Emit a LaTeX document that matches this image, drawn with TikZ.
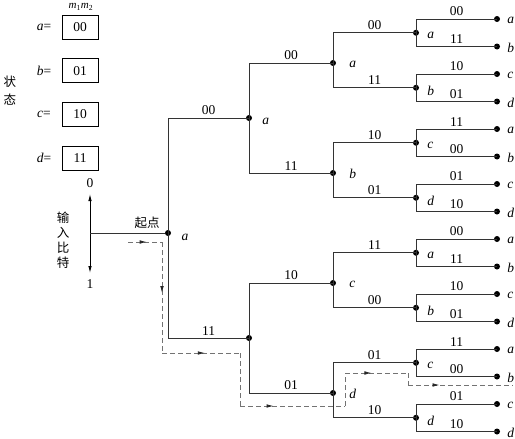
\documentclass[tikz,border=0pt]{standalone}
\usepackage{fontspec}
\setmainfont{Liberation Serif}
\newfontfamily\cjk{Noto Sans CJK SC}
\usetikzlibrary{arrows.meta,decorations.markings}
\newcommand\lblfont{\fontsize{13.5}{15}\selectfont}
\begin{document}
\begin{tikzpicture}[x=1pt,y=-1pt,
  every node/.style={font=\lblfont},
  tree/.style={draw=black!80, line width=0.8pt},
  dot/.style={circle, fill=black, inner sep=0pt, minimum size=6pt},
  outlbl/.style={above=1.5pt, inner sep=1pt},
  stlbl/.style={inner sep=0pt, label distance=#1},
  statebox/.style={draw, line width=0.8pt, minimum width=36pt, minimum height=24pt, inner sep=0pt},
  dashpath/.style={draw=black!55, line width=0.8pt, dash pattern=on 5pt off 3pt},
  midarr/.style={postaction={decorate}, decoration={markings,
     mark=at position #1 with {\arrow[black!85]{Latex[length=7pt,width=3.6pt]}}}}
]
\useasboundingbox (0,0) rectangle (515,439);

% ---- left legend ----
\node[font=\fontsize{11}{12}\selectfont] (m12) at (81,7) {\textit{m}\textsubscript{1}\textit{m}\textsubscript{2}};
\foreach \k/\s/\v in {0/a/00,1/b/01,2/c/10,3/d/11}{
  \node[statebox] (box\s) at (80,{27+43.7*\k}) {\v};
  \node (eq\s) at (44,{27+43.7*\k}) {\textit{\s}=};
}
\node[align=center, font=\cjk\fontsize{12.5}{18}\selectfont] (zt) at (10,91) {状\\态};
\node (zero) at (90,183) {0};
\node (one) at (90,284) {1};
\coordinate (in) at (90,233);
\coordinate (up) at (90,194);
\coordinate (dn) at (90,273);
\draw[line width=0.8pt, -{Latex[length=7pt,width=3.4pt]}] (in) -- (up);
\draw[line width=0.8pt, -{Latex[length=7pt,width=3.4pt]}] (in) -- (dn);
\node[align=center, font=\cjk\fontsize{12.5}{15}\selectfont] (inbit) at (63,240) {输\\入\\比\\特};

% ---- tree nodes ----
\node[dot] (r) at (168,233) {};
\node (qd) at (147,223) {\cjk\fontsize{12.5}{14}\selectfont 起点};
\node[inner sep=0pt] (ra) at (185,237) {\textit{a}};
\node[dot, label={[stlbl=10pt, yshift=-3pt]right:\textit{a}}] (p1) at (249,118) {};
\node[dot] (p2) at (249,338) {};
\foreach \i/\l in {1/a,2/b,3/c,4/d}
  \node[dot, label={[stlbl=13pt, yshift=-1pt]right:\textit{\l}}] (q\i) at (333,{63+110*(\i-1)}) {};
\foreach \i/\l in {1/a,2/b,3/c,4/d,5/a,6/b,7/c,8/d}
  \node[dot, label={[stlbl=8pt, yshift=-3pt]right:\textit{\l}}] (s\i) at (416,{32.75+55*(\i-1)}) {};
\foreach \i/\l in {1/a,2/b,3/c,4/d,5/a,6/b,7/c,8/d,9/a,10/b,11/c,12/d,13/a,14/b,15/c,16/d}
  \node[dot, label={[stlbl=7pt, yshift=-1pt]right:\textit{\l}}] (t\i) at (497,{19+27.5*(\i-1)}) {};

% ---- branches ----
\draw[tree] (in) -- (r);
\foreach \p/\c/\o in {r/p1/00, r/p2/11,
  p1/q1/00, p1/q2/11, p2/q3/10, p2/q4/01,
  q1/s1/00, q1/s2/11, q2/s3/10, q2/s4/01, q3/s5/11, q3/s6/00, q4/s7/01, q4/s8/10,
  s1/t1/00, s1/t2/11, s2/t3/10, s2/t4/01, s3/t5/11, s3/t6/00, s4/t7/01, s4/t8/10,
  s5/t9/00, s5/t10/11, s6/t11/10, s6/t12/01, s7/t13/11, s7/t14/00, s8/t15/01, s8/t16/10}
  \draw[tree] (\p.center) |- node[outlbl, pos=0.75] {\o} (\c.center);

% ---- dashed survivor path ----
\coordinate (d0) at (128,242);
\coordinate (d1) at (162,242);
\coordinate (d2) at (162,353);
\coordinate (d3) at (240,353);
\coordinate (d4) at (240,406);
\coordinate (d5) at (345,406);
\coordinate (d6) at (345,373);
\coordinate (d7) at (408,373);
\coordinate (d8) at (408,385);
\coordinate (d9) at (513,385);
\draw[dashpath, midarr=0.55] (d0) -- (d1);
\draw[dashpath, midarr=0.46] (d1) -- (d2);
\draw[dashpath, midarr=0.55] (d2) -- (d3);
\draw[dashpath] (d3) -- (d4);
\draw[dashpath, midarr=0.32] (d4) -- (d5);
\draw[dashpath] (d5) -- (d6);
\draw[dashpath, midarr=0.42] (d6) -- (d7);
\draw[dashpath] (d7) -- (d8);
\draw[dashpath, midarr=0.3] (d8) -- (d9);
\end{tikzpicture}
\end{document}
